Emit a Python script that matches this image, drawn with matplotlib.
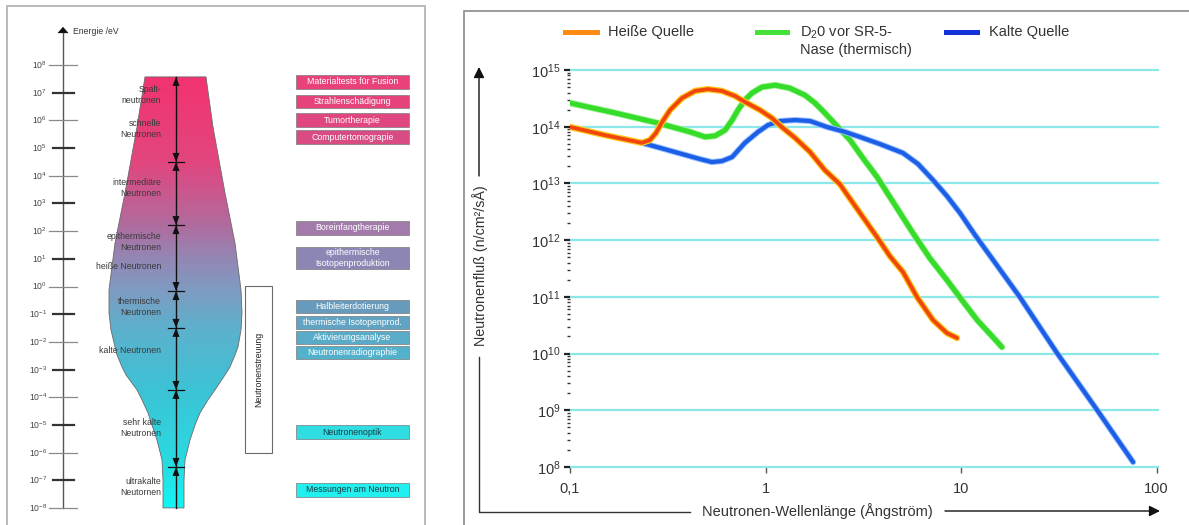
import numpy as np
import matplotlib
matplotlib.use('Agg')
import matplotlib.pyplot as plt
from matplotlib.patches import Rectangle, Polygon, FancyArrowPatch
from matplotlib.lines import Line2D
from matplotlib.colors import LinearSegmentedColormap, Normalize
from matplotlib.ticker import (FixedLocator, FixedFormatter, NullLocator, LogLocator,
                               NullFormatter)

plt.rcParams['font.family'] = ['Liberation Sans', 'DejaVu Sans']
plt.rcParams['mathtext.fontset'] = 'custom'
plt.rcParams['mathtext.rm'] = 'Liberation Sans'
plt.rcParams['mathtext.it'] = 'Liberation Sans:italic'
plt.rcParams['mathtext.bf'] = 'Liberation Sans:bold'

# ---------------- right panel data (wavelength in Å, flux n/cm²/s/Å) ----------------
lam_hot = [0.100, 0.151, 0.233, 0.256, 0.275, 0.296, 0.325, 0.374, 0.436, 0.508, 0.599,
           0.698, 0.785, 0.937, 1.08, 1.21, 1.42, 1.69, 2.01, 2.40, 2.97, 3.72, 4.33,
           5.05, 5.96, 7.19, 8.47, 9.55]
flux_hot = [9.9e13, 7.1e13, 5.2e13, 5.8e13, 7.7e13, 1.21e14, 1.97e14, 3.2e14, 4.27e14,
            4.6e14, 4.27e14, 3.48e14, 2.73e14, 1.97e14, 1.42e14, 9.9e13, 6.3e13, 3.58e13,
            1.72e13, 9.7e12, 3.4e12, 1.13e12, 5.2e11, 2.74e11, 9.9e10, 3.9e10, 2.3e10,
            1.88e10]

lam_d2o = [0.100, 0.170, 0.282, 0.411, 0.491, 0.552, 0.621, 0.675, 0.723, 0.785, 0.853,
           0.959, 1.12, 1.33, 1.59, 1.79, 2.01, 2.32, 2.71, 3.15, 3.72, 4.59, 5.68, 6.93,
           8.47, 10.1, 12.1, 14.1, 16.2]
flux_d2o = [2.62e14, 1.75e14, 1.16e14, 8.1e13, 6.6e13, 6.9e13, 8.7e13, 1.31e14, 1.97e14,
            2.96e14, 3.93e14, 5.0e14, 5.4e14, 4.8e14, 3.6e14, 2.62e14, 1.75e14, 1.03e14,
            5.8e13, 2.8e13, 1.30e13, 4.2e12, 1.33e12, 4.8e11, 1.98e11, 8.8e10, 3.9e10,
            2.2e10, 1.30e10]

lam_cold = [0.233, 0.344, 0.462, 0.532, 0.599, 0.675, 0.785, 0.916, 1.03, 1.19, 1.42,
            1.69, 2.06, 2.55, 3.04, 3.85, 5.05, 6.03, 7.19, 8.47, 9.89, 11.8, 14.6, 20.0,
            31.0, 49.7, 75.9]
flux_cold = [5.2e13, 3.58e13, 2.69e13, 2.38e13, 2.48e13, 2.92e13, 5.2e13, 8.1e13, 1.07e14,
             1.26e14, 1.31e14, 1.26e14, 9.9e13, 8.1e13, 6.6e13, 4.95e13, 3.44e13, 2.2e13,
             1.15e13, 6.0e12, 3.0e12, 1.23e12, 4.46e11, 9.9e10, 1.02e10, 1.01e9, 1.22e8]

series_labels = ['Heiße Quelle', 'D$_2$0 vor SR-5-\nNase (thermisch)', 'Kalte Quelle']
x_ticks = [0.1, 1, 10, 100]
x_ticklabels = ['0,1', '1', '10', '100']
y_ticks = [1e8, 1e9, 1e10, 1e11, 1e12, 1e13, 1e14, 1e15]
y_ticklabels = [r'$\mathdefault{10^{%d}}$' % k for k in range(8, 16)]
y_label = 'Neutronenfluß (n/cm²/sÅ)'
x_label = 'Neutronen-Wellenlänge (Ångström)'

# ---------------- left panel data (energies as log10 eV) ----------------
energy_exponents = list(range(8, -9, -1))
class_labels = ['Spalt-\nneutronen', 'schnelle\nNeutronen', 'intermediäre\nNeutronen',
                'epithermische\nNeutronen', 'heiße Neutronen', 'thermische\nNeutronen',
                'kalte Neutronen', 'sehr kalte\nNeutronen', 'ultrakalte\nNeutornen']
class_logE = [6.92, 5.69, 3.56, 1.61, 0.71, -0.74, -2.32, -5.10, -7.23]
range_top, range_bottom = 7.57, -7.99
boundaries_logE = [4.50, 2.22, -0.16, -1.49, -3.73, -6.51]
bottle_logE = [7.57, 5.76, 3.38, 1.57, -0.12, -0.95, -1.57, -2.18, -2.47, -2.90, -3.19,
               -3.73, -4.09, -4.56, -5.00, -5.54, -6.26, -6.98, -7.99]
bottle_left = [145, 137, 125, 115, 109, 109, 111, 115, 117, 122, 126, 137, 142, 148, 152,
               157, 162, 163, 163]
bottle_right = [206, 213, 225, 235, 241, 242, 241, 238, 235, 230, 225, 215, 208, 200, 195,
                190, 185, 184, 184]
app_labels = ['Materialtests für Fusion', 'Strahlenschädigung', 'Tumortherapie',
              'Computertomograpie', 'Boreinfangtherapie',
              'epithermische\nIsotopenproduktion', 'Halbleiterdotierung',
              'thermische Isotopenprod.', 'Aktivierungsanalyse', 'Neutronenradiographie',
              'Neutronenoptik', 'Messungen am Neutron']
app_logE = [7.39, 6.68, 6.01, 5.40, 2.13, 1.03, -0.72, -1.30, -1.84, -2.38, -5.25, -7.34]
app_span = [0.5, 0.5, 0.5, 0.5, 0.5, 0.8, 0.48, 0.48, 0.48, 0.48, 0.5, 0.5]
app_colors = ['#e9427b', '#e6437c', '#e0467f', '#d84b83', '#a27bab', '#8c86b5',
              '#689bbb', '#60a3c2', '#59abc8', '#54b1cc', '#30dde3', '#22f0f0']
app_text_colors = ['white'] * 10 + ['#1a3c44', '#1a3c44']
scatter_label = 'Neutronenstreuung'
scatter_top, scatter_bottom = 0.02, -6.01

# ---------------- figure ----------------
W, H = 1189, 525
fig = plt.figure(figsize=(W / 100, H / 100), dpi=100)
fig.patch.set_facecolor('white')

def fx(x):
    return x / W

def fy(y):
    return 1 - y / H

# panel borders
fig.add_artist(Rectangle((fx(7), fy(540)), (425 - 7) / W, (540 - 6) / H,
                         transform=fig.transFigure, fill=False, ec='#b4b4b4', lw=1.3))
fig.add_artist(Rectangle((fx(464), fy(540)), (1200 - 464) / W, (540 - 11) / H,
                         transform=fig.transFigure, fill=False, ec='#8a8a8a', lw=1.2))

# ---------------- left panel ----------------
PXD = 27.7
V_TOP = 8 + 65 / PXD
V_BOT = 8 - (H - 65) / PXD
axL = fig.add_axes([0, 0, 460 / W, 1])
axL.set_xlim(0, 460)
axL.set_ylim(V_BOT, V_TOP)
axL.axis('off')

# energy axis
axL.plot([63, 63], [energy_exponents[-1], 9.16], color='#555555', lw=1)
axL.add_patch(Polygon([(57.5, 9.15), (68.5, 9.15), (63, 9.38)], closed=True,
                      fc='#111111', ec='none'))
axL.text(73, 9.22, 'Energie /eV', fontsize=6.2, color='#333333', va='center', ha='left')
for i, e in enumerate(energy_exponents):
    if i % 2 == 0:
        axL.plot([49, 77], [e, e], color='#8a8a8a', lw=0.9)
    else:
        axL.plot([53, 74], [e, e], color='#333333', lw=1.6)
    axL.text(47, e, r'$\mathdefault{10^{%d}}$' % e, fontsize=6.2, color='#444444',
             ha='right', va='center')

# bottle with gradient
pts = list(zip(bottle_left, bottle_logE)) + list(zip(bottle_right[::-1], bottle_logE[::-1]))
bottle = Polygon(pts, closed=True, fc='none', ec='#6a6a6a', lw=0.6, zorder=3)
axL.add_patch(bottle)
stops_v = [-7.99, -6.5, -3.7, -1.5, -0.2, 1.0, 2.2, 4.5, 7.57]
stops_c = ['#12f4f4', '#28dce2', '#3dc2d5', '#5eb0cc', '#7d9cc2', '#9387b4', '#b06c9f',
           '#e2467f', '#f2336f']
vmin, vmax = stops_v[0], stops_v[-1]
cmap = LinearSegmentedColormap.from_list(
    'bottle', [((v - vmin) / (vmax - vmin), c) for v, c in zip(stops_v, stops_c)])
grad = np.linspace(vmax, vmin, 400).reshape(-1, 1)
im = axL.imshow(grad, extent=[100, 250, vmin, vmax], origin='upper', aspect='auto',
                cmap=cmap, norm=Normalize(vmin, vmax), zorder=2)
im.set_clip_path(bottle)

# range arrow line with boundaries
AX = 176
ah = 9 / PXD
axL.plot([AX, AX], [range_top, range_bottom], color='#111111', lw=1, zorder=4)
axL.add_patch(Polygon([(AX - 3.5, range_top - ah), (AX + 3.5, range_top - ah),
                       (AX, range_top)], fc='#111111', ec='none', zorder=5))
for b in boundaries_logE:
    axL.plot([168, 184], [b, b], color='#111111', lw=0.9, zorder=4)
    axL.add_patch(Polygon([(AX - 3.5, b + ah), (AX + 3.5, b + ah), (AX, b)],
                          fc='#111111', ec='none', zorder=5))
    axL.add_patch(Polygon([(AX - 3.5, b - ah), (AX + 3.5, b - ah), (AX, b)],
                          fc='#111111', ec='none', zorder=5))

for lab, v in zip(class_labels, class_logE):
    axL.text(161, v, lab, fontsize=6.3, color='#3a3a3a', ha='right', va='center',
             linespacing=1.3, zorder=6, multialignment='right')

# application boxes
for lab, v, h, c, tc in zip(app_labels, app_logE, app_span, app_colors, app_text_colors):
    axL.add_patch(Rectangle((296, v - h / 2), 113, h, fc=c, ec='#7a7a7a', lw=0.5))
    axL.text(352.5, v, lab, fontsize=6.3, color=tc, ha='center', va='center',
             linespacing=1.25)

axL.add_patch(Rectangle((245, scatter_bottom), 27, scatter_top - scatter_bottom,
                        fc='white', ec='#6a6a6a', lw=0.8))
axL.text(258.5, (scatter_top + scatter_bottom) / 2, scatter_label, rotation=90,
         fontsize=6.3, color='#222222', ha='center', va='center')

# ---------------- right panel ----------------
x_left, x_right, y_top, y_bot = 570, 1158, 70, 467
PXX = 195.5
axR = fig.add_axes([fx(x_left), fy(y_bot), (x_right - x_left) / W, (y_bot - y_top) / H])
axR.set_xscale('log')
axR.set_yscale('log')
axR.set_xlim(0.1, 10 ** ((x_right - x_left) / PXX - 1))
axR.set_ylim(y_ticks[0], y_ticks[-1])
for s in axR.spines.values():
    s.set_visible(False)
axR.patch.set_alpha(0)

axR.yaxis.set_major_locator(FixedLocator(y_ticks))
axR.yaxis.set_major_formatter(FixedFormatter(y_ticklabels))
axR.yaxis.set_minor_locator(LogLocator(base=10, subs=np.arange(2, 10), numticks=20))
axR.yaxis.set_minor_formatter(NullFormatter())
axR.xaxis.set_major_locator(FixedLocator(x_ticks))
axR.xaxis.set_major_formatter(FixedFormatter(x_ticklabels))
axR.xaxis.set_minor_locator(NullLocator())
axR.tick_params(axis='y', which='major', direction='out', length=4, width=1.6,
                color='#222222', labelsize=10.5, labelcolor='#333333', pad=3)
axR.tick_params(axis='y', which='minor', direction='out', length=2.5, width=1.0,
                color='#333333')
axR.tick_params(axis='x', which='major', direction='out', length=4.5, width=1.0,
                color='#555555', labelsize=10.5, labelcolor='#333333', pad=6)

axR.grid(True, axis='y', which='major', color='#8ae8e8', lw=1.6)
axR.set_axisbelow(True)
for gl in axR.get_ygridlines():
    gl.set_clip_on(False)

# curves with soft halo
axR.plot(lam_hot, flux_hot, color='#ffc81e', lw=4.6, solid_capstyle='round', zorder=3)
axR.plot(lam_hot, flux_hot, color='#f0460c', lw=2.8, solid_capstyle='round', zorder=3.1)
axR.plot(lam_d2o, flux_d2o, color='#a6f29a', lw=4.8, solid_capstyle='round', zorder=2.5)
axR.plot(lam_d2o, flux_d2o, color='#36dc2a', lw=3.6, solid_capstyle='round', zorder=2.6)
axR.plot(lam_cold, flux_cold, color='#93beff', lw=4.4, solid_capstyle='round', zorder=2.7)
axR.plot(lam_cold, flux_cold, color='#1c5ee6', lw=3.0, solid_capstyle='round', zorder=2.8)

# legend (manual)
leg_colors = ['#ff8a14', '#46e03a', '#1234d6']
leg_x = [(565, 597, 608), (757, 787, 800), (946, 977, 989)]
for (x0, x1, xt), c, lab in zip(leg_x, leg_colors, series_labels):
    fig.add_artist(Line2D([fx(x0), fx(x1)], [fy(32), fy(32)], transform=fig.transFigure,
                          color=c, lw=3.6))
    if '\n' in lab:
        fig.text(fx(xt), fy(41), lab, fontsize=10.5, color='#333333', ha='left',
                 va='center', linespacing=1.2)
    else:
        fig.text(fx(xt), fy(32), lab, fontsize=10.5, color='#333333', ha='left',
                 va='center')

# axis labels with arrows
fig.text(fx(480), fy(266), y_label, rotation=90, fontsize=10.3, color='#333333',
         ha='center', va='center')
fig.text(fx(817), fy(511), x_label, fontsize=10.5, color='#333333', ha='center',
         va='center')
fig.add_artist(Line2D([fx(479), fx(479), fx(690)], [fy(357), fy(512), fy(512)],
                      transform=fig.transFigure, color='#333333', lw=1))
fig.add_artist(FancyArrowPatch((fx(479), fy(176)), (fx(479), fy(67)),
                               transform=fig.transFigure, arrowstyle='-|>',
                               mutation_scale=16, color='#111111', lw=1,
                               shrinkA=0, shrinkB=0))
fig.add_artist(FancyArrowPatch((fx(945), fy(511)), (fx(1160), fy(511)),
                               transform=fig.transFigure, arrowstyle='-|>',
                               mutation_scale=16, color='#111111', lw=1,
                               shrinkA=0, shrinkB=0))

fig.savefig('out.png', dpi=100, facecolor='white')
